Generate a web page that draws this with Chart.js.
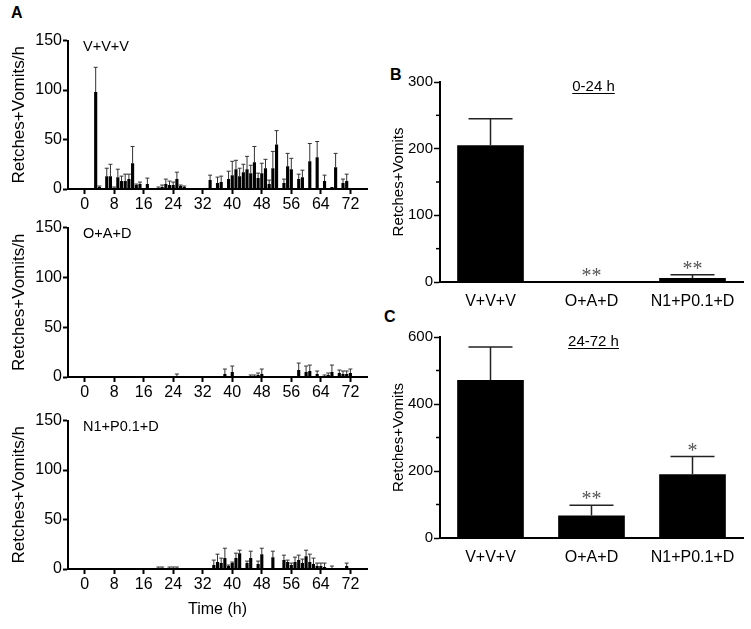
<!DOCTYPE html>
<html>
<head>
<meta charset="utf-8">
<script src="https://cdn.jsdelivr.net/npm/chart.js@4.4.0/dist/chart.umd.min.js"></script>
<style>
body { margin:0; background:#fff; width:751px; height:629px; position:relative; overflow:hidden; font-family:"Liberation Sans", Arial, sans-serif; }
canvas { position:absolute; }
.lab { position:absolute; font-weight:bold; font-size:16px; line-height:1; }
</style>
</head>
<body>
<div class="lab" style="left:11px;top:5px">A</div>
<div class="lab" style="left:390px;top:67px">B</div>
<div class="lab" style="left:384px;top:309px">C</div>

<canvas id="a1" width="380" height="185" style="left:0;top:30px"></canvas>
<canvas id="a2" width="380" height="186" style="left:0;top:217px"></canvas>
<canvas id="a3" width="380" height="211" style="left:0;top:410px"></canvas>
<canvas id="b" width="371" height="236" style="left:380px;top:70px"></canvas>
<canvas id="c" width="371" height="242" style="left:380px;top:320px"></canvas>

<script>
// hourly time course (A)
const hours = [1,2,3,4,5,6,7,8,9,10,11,12,13,14,15,16,17,18,19,20,21,22,23,24,25,26,27,28,29,30,31,32,33,34,35,36,
               37,38,39,40,41,42,43,44,45,46,47,48,49,50,51,52,53,54,55,56,57,58,59,60,61,62,63,64,65,66,67,68,69,70,71,72];
const hourTicks = [0, 8, 16, 24, 32, 40, 48, 56, 64, 72];

const vvvMean = [0,0,98,2,0,13,13,1,12,8, 8,10,26,4,5,0,5,0,0,1, 2,5,4,4,10,3,2,0,0,0,
                 0,0,0,9,0,6,7,0,10,14, 20,13,17,20,16,27,11,16,21,5, 21,45,0,6,23,20,0,10,12,0,
                 28,0,32,0,8,0,2,22,0,6, 8,0];
const vvvSem  = [0,0,25,1,0,8,12,1,8,5, 7,5,17,1,2,0,6,0,0,1, 2,5,4,3,7,1,1,0,0,0,
                 0,0,0,5,0,6,6,0,8,14, 9,8,8,13,8,16,5,10,9,4, 17,14,0,4,13,11,0,5,7,0,
                 18,0,16,0,6,0,0,14,0,4, 7,0];

const oadMean = [0,0,0,0,0,0,0,0,0,0, 0,0,0,0,0,0,0,0,0,0, 0,0,0,0,1,0,0,0,0,0,
                 0,0,0,0,0,0,0,3,0,5, 0,0,0,0,1,1,2,3,0,0, 0,0,0,0,0,0,0,7,0,5,
                 6,0,3,0,1,2,5,0,4,3, 3,4];
const oadSem  = [0,0,0,0,0,0,0,0,0,0, 0,0,0,0,0,0,0,0,0,0, 0,0,0,0,2,0,0,0,0,0,
                 0,0,0,0,0,0,0,5,0,6, 0,0,0,0,1,1,2,5,0,0, 0,0,0,0,0,0,0,7,0,6,
                 6,0,3,0,1,2,7,0,3,3, 3,4];

const n1Mean  = [0,0,0,0,0,0,0,0,0,0, 0,0,0,0,0,0,0,0,0,0.5, 1,0,1,1,1,0,0,0,0,0,
                 0,0,0,0,4,7,6,11,3,6, 11,16,0,6,11,0,5,15,1,0, 12,1,0,9,7,4,7,9,6,13,
                 7,5,3,3,2,0,1,0,1,1, 3,0];
const n1Sem   = [0,0,0,0,0,0,0,0,0,0, 0,0,0,0,0,0,0,0,0,1.5, 1,0,1,1,1,0,0,0,0,0,
                 0,0,0,0,5,8,5,10,1,1, 5,3,0,2,7,0,3,6,0,0, 6,0,0,5,2,2,5,5,4,6,
                 8,6,3,3,4,0,2,0,0,0, 3,0];

// totals (B, C)
const groups = ['V+V+V', 'O+A+D', 'N1+P0.1+D'];
const early = [205, 1, 6];
const earlySem = [40, 0, 5];
const earlyStars = ['', '**', '**'];
const late = [472, 67, 190];
const lateSem = [98, 31, 53];
const lateStars = ['', '**', '*'];

const FONT = '"Liberation Sans", Arial, sans-serif';

const errorBars = {
    id: 'errorBars',
    afterDatasetsDraw(chart, args, o) {
        const ctx = chart.ctx;
        const y = chart.scales.y;
        const bars = chart.getDatasetMeta(0).data;
        ctx.save();
        ctx.strokeStyle = o.color;
        ctx.lineWidth = o.lineWidth;
        bars.forEach((bar, i) => {
            const e = o.sem[i];
            if (!e) return;
            const top = y.getPixelForValue(o.mean[i] + e);
            ctx.beginPath();
            ctx.moveTo(bar.x, bar.y);
            ctx.lineTo(bar.x, top);
            ctx.moveTo(bar.x - o.cap, top);
            ctx.lineTo(bar.x + o.cap, top);
            ctx.stroke();
        });
        ctx.restore();
    }
};

const extras = {
    id: 'extras',
    afterDraw(chart, args, o) {
        const {ctx, chartArea: a, scales} = chart;
        ctx.save();
        ctx.fillStyle = '#000';
        if (o.name) {
            ctx.font = '14.5px ' + FONT;
            ctx.textAlign = 'left';
            ctx.textBaseline = 'middle';
            ctx.fillText(o.name, a.left + 15, a.top + 6);
        }
        if (o.period) {
            const x = scales.x.getPixelForValue(1);
            ctx.font = '15px ' + FONT;
            ctx.textAlign = 'center';
            ctx.textBaseline = 'middle';
            ctx.fillText(o.period, x + 2, a.top + 5);
            const w = ctx.measureText(o.period).width;
            ctx.fillRect(x + 2 - w / 2, a.top + 11, w, 1);
        }
        if (o.stars) {
            ctx.font = '20px "Liberation Serif", serif';
            ctx.fillStyle = '#555';
            ctx.textAlign = 'center';
            ctx.textBaseline = 'middle';
            o.stars.forEach((s, i) => {
                if (!s) return;
                const x = scales.x.getPixelForValue(i);
                const y = scales.y.getPixelForValue(o.mean[i] + o.sem[i]);
                ctx.fillText(s, x, y - 5);
            });
        }
        if (o.minor) {
            ctx.strokeStyle = '#000';
            ctx.lineWidth = 1.5;
            o.minor.forEach(v => {
                const y = scales.y.getPixelForValue(v);
                ctx.beginPath();
                ctx.moveTo(a.left - 4, y);
                ctx.lineTo(a.left, y);
                ctx.stroke();
            });
        }
        ctx.restore();
    }
};

function timePanel(id, name, mean, sem, showTitle) {
    new Chart(document.getElementById(id), {
        type: 'bar',
        data: {
            datasets: [{
                data: hours.map((h, i) => ({x: h, y: mean[i]})),
                backgroundColor: '#000',
                borderWidth: 0,
                barPercentage: 0.85,
                categoryPercentage: 1
            }]
        },
        options: {
            responsive: false,
            animation: false,
            devicePixelRatio: 1,
            layout: { padding: { top: 10, right: 13, left: 0, bottom: 0 } },
            plugins: {
                legend: { display: false },
                tooltip: { enabled: false },
                errorBars: { mean: mean, sem: sem, cap: 2, color: '#333', lineWidth: 1 },
                extras: { name: name }
            },
            scales: {
                x: {
                    type: 'linear',
                    min: -4.5,
                    max: 76.5,
                    offset: false,
                    afterBuildTicks: s => { s.ticks = hourTicks.map(v => ({value: v})); },
                    ticks: { color: '#000', font: { size: 16, family: FONT }, padding: 1, autoSkip: false, maxRotation: 0 },
                    grid: { drawOnChartArea: false, tickLength: 5, tickColor: '#000', tickWidth: 2, offset: false },
                    border: { color: '#000', width: 2 },
                    title: { display: showTitle, text: 'Time (h)', color: '#000', font: { size: 16, family: FONT }, padding: { top: 4, bottom: 2 } },
                    afterFit: s => { s.height = showTitle ? 52 : 26; }
                },
                y: {
                    min: 0,
                    max: 150,
                    ticks: { stepSize: 50, color: '#000', font: { size: 16, family: FONT }, padding: 1 },
                    grid: { drawOnChartArea: false, tickLength: 5, tickColor: '#000', tickWidth: 2 },
                    border: { color: '#000', width: 2 },
                    title: { display: true, text: 'Retches+Vomits/h', color: '#000', font: { size: 17, family: FONT }, padding: { top: 9, bottom: 0 } },
                    afterFit: s => { s.width = 68; }
                }
            }
        },
        plugins: [errorBars, extras]
    });
}

function totalPanel(id, period, mean, sem, stars, max, step, minor, padTop) {
    new Chart(document.getElementById(id), {
        type: 'bar',
        data: {
            labels: groups,
            datasets: [{
                data: mean,
                backgroundColor: '#000',
                borderWidth: 0,
                barPercentage: 0.66,
                categoryPercentage: 1
            }]
        },
        options: {
            responsive: false,
            animation: false,
            devicePixelRatio: 1,
            layout: { padding: { top: padTop, right: 8, left: 0, bottom: 0 } },
            plugins: {
                legend: { display: false },
                tooltip: { enabled: false },
                errorBars: { mean: mean, sem: sem, cap: 22, color: '#222', lineWidth: 1.5 },
                extras: { period: period, stars: stars, mean: mean, sem: sem, minor: minor }
            },
            scales: {
                x: {
                    grid: { display: false },
                    border: { color: '#000', width: 2 },
                    ticks: { color: '#000', font: { size: 16, family: FONT }, padding: 2 },
                    afterFit: s => { s.height = 24; }
                },
                y: {
                    min: 0,
                    max: max,
                    ticks: { stepSize: step, color: '#000', font: { size: 15, family: FONT }, padding: 1 },
                    grid: { drawOnChartArea: false, tickLength: 6, tickColor: '#000', tickWidth: 1.5 },
                    border: { color: '#000', width: 2 },
                    title: { display: true, text: 'Retches+Vomits', color: '#000', font: { size: 15, family: FONT }, padding: { top: 10, bottom: 0 } },
                    afterFit: s => { s.width = 60; }
                }
            }
        },
        plugins: [errorBars, extras]
    });
}

timePanel('a1', 'V+V+V', vvvMean, vvvSem, false);
timePanel('a2', 'O+A+D', oadMean, oadSem, false);
timePanel('a3', 'N1+P0.1+D', n1Mean, n1Sem, true);
totalPanel('b', '0-24 h', early, earlySem, earlyStars, 300, 100, [50, 150, 250], 12);
totalPanel('c', '24-72 h', late, lateSem, lateStars, 600, 200, [100, 300, 500], 17);
</script>
</body>
</html>
